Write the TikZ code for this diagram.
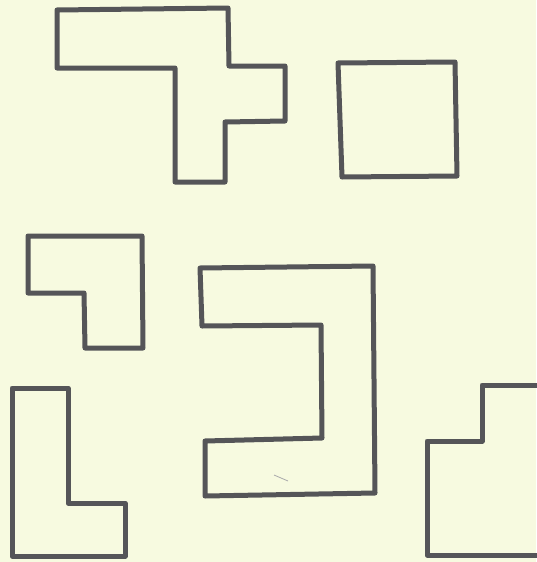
\documentclass[tikz,border=0pt]{standalone}
\definecolor{bg}{RGB}{247,250,224}
\definecolor{ink}{RGB}{85,85,88}
\begin{document}
\begin{tikzpicture}[x=1pt,y=-1pt,
  outline/.style={draw=ink,line width=5pt,line join=round}]
\fill[bg] (0,0) rectangle (536,562);
\useasboundingbox (0,0) rectangle (536,562);
% T-like shape
\draw[outline] (57,10) -- (228,8) -- (229,66) -- (285,66) -- (285,121) -- (225,122) -- (225,182) -- (175,182) -- (175,68) -- (57,68) -- cycle;
% square
\draw[outline] (338,63) -- (455,62) -- (457,176) -- (342,177) -- cycle;
% small L
\draw[outline] (28,236) -- (142,236) -- (143,348) -- (85,348) -- (84,293) -- (28,293) -- cycle;
% C shape
\draw[outline] (200,268) -- (373,266) -- (375,493) -- (205,496) -- (205,441) -- (322,438) -- (321,325) -- (202,326) -- cycle;
\draw[ink!50,line width=0.8pt] (274,475) -- (288,481);
% tall L
\draw[outline] (12,388) -- (68,388) -- (68,503) -- (125,503) -- (125,556) -- (12,556) -- cycle;
% step shape at right edge
\draw[outline] (540,385) -- (482,385) -- (482,441) -- (427,441) -- (427,555) -- (540,555);
\end{tikzpicture}
\end{document}
